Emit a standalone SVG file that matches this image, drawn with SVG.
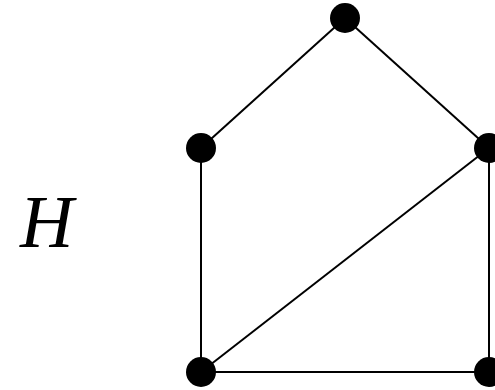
<svg xmlns="http://www.w3.org/2000/svg" width="495" height="390" viewBox="0 0 495 390">
<style>
.e{stroke:#000;stroke-width:2;fill:none}
.n{fill:#000}
.lbl{font-family:"Liberation Serif","Times New Roman",serif;font-style:italic;font-size:74px;fill:#000}
</style>
<rect width="495" height="390" fill="#fff"/>
<g id="connectors">
<line class="e" x1="345" y1="18" x2="201" y2="148"/>
<line class="e" x1="345" y1="18" x2="489" y2="148"/>
<line class="e" x1="201" y1="148" x2="201" y2="372"/>
<line class="e" x1="489" y1="148" x2="201" y2="372"/>
<line class="e" x1="489" y1="148" x2="489" y2="372"/>
<line class="e" x1="201" y1="372" x2="489" y2="372"/>
</g>
<g id="n1"><circle class="n" cx="345" cy="18" r="15"/></g>
<g id="n2"><circle class="n" cx="201" cy="148" r="15"/></g>
<g id="n3"><circle class="n" cx="489" cy="148" r="15"/></g>
<g id="n4"><circle class="n" cx="201" cy="372" r="15"/></g>
<g id="n5"><circle class="n" cx="489" cy="372" r="15"/></g>
<g id="label"><text class="lbl" x="20" y="247">H</text></g>
</svg>
